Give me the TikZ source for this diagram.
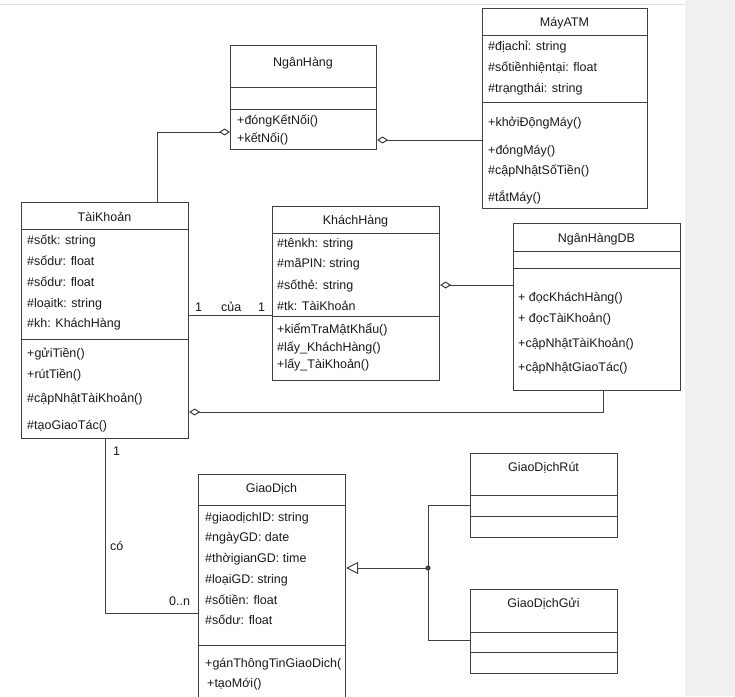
\documentclass[tikz,border=0pt]{standalone}
\usepackage{fontspec}
\setmainfont{Liberation Sans}
\usetikzlibrary{arrows.meta}
\definecolor{ln}{HTML}{404040}
\definecolor{tx}{HTML}{1A1A1A}
\definecolor{panel}{HTML}{F0F0F0}
\definecolor{topline}{HTML}{E2E2E2}
\tikzset{
  box/.style={draw=ln, line width=1.1pt, fill=white, rectangle, inner sep=0pt, anchor=north west},
  sepline/.style={draw=ln, line width=1pt},
  conn/.style={draw=ln, line width=1pt},
  txt/.style={anchor=west, inner sep=0pt, text=tx, text height=8.5pt, text depth=0pt, font=\fontsize{12.5}{14}\selectfont},
  ttl/.style={txt, anchor=center},
}
\begin{document}
\begin{tikzpicture}[x=1pt, y=-1pt]
\clip (0,0) rectangle (735,696);
\fill[white] (0,0) rectangle (735,696);
\fill[panel] (685,0) rectangle (735,696);
\draw[topline, line width=1pt] (0,4) -- (685,4);

% ---------- NganHang ----------
\node[box, minimum width=146pt, minimum height=104pt] (ngh) at (230,45) {};
\draw[sepline] (ngh.west |- 0,87) -- (ngh.east |- 0,87);
\draw[sepline] (ngh.west |- 0,109) -- (ngh.east |- 0,109);
\node[ttl] (ngh-t) at (303,62) {NgânHàng};
\node[txt] (ngh-m1) at (237,120) {+đóngKếtNối()};
\node[txt] (ngh-m2) at (237,138) {+kếtNối()};

% ---------- MayATM ----------
\node[box, minimum width=165pt, minimum height=200pt] (atm) at (482,8) {};
\draw[sepline] (atm.west |- 0,35) -- (atm.east |- 0,35);
\draw[sepline] (atm.west |- 0,102) -- (atm.east |- 0,102);
\node[ttl] (atm-t) at (564.5,22) {MáyATM};
\node[txt] (atm-a1) at (488,46) {\#địachỉ: string};
\node[txt] (atm-a2) at (488,67) {\#sốtiềnhiệntại: float};
\node[txt] (atm-a3) at (488,88) {\#trạngthái: string};
\node[txt] (atm-m1) at (488,122) {+khởiĐộngMáy()};
\node[txt] (atm-m2) at (488,150) {+đóngMáy()};
\node[txt] (atm-m3) at (488,170) {\#cậpNhậtSốTiền()};
\node[txt] (atm-m4) at (488,197) {\#tắtMáy()};

% ---------- TaiKhoan ----------
\node[box, minimum width=167pt, minimum height=236pt] (tk) at (21,202) {};
\draw[sepline] (tk.west |- 0,229) -- (tk.east |- 0,229);
\draw[sepline] (tk.west |- 0,339) -- (tk.east |- 0,339);
\node[ttl] (tk-t) at (104.5,217) {TàiKhoản};
\node[txt] (tk-a1) at (27,240) {\#sốtk: string};
\node[txt] (tk-a2) at (27,261) {\#sốdư: float};
\node[txt] (tk-a3) at (27,282) {\#sốdư: float};
\node[txt] (tk-a4) at (27,303) {\#loạitk: string};
\node[txt] (tk-a5) at (27,323) {\#kh: KháchHàng};
\node[txt] (tk-m1) at (27,353) {+gửiTiền()};
\node[txt] (tk-m2) at (27,374) {+rútTiền()};
\node[txt] (tk-m3) at (27,398) {\#cậpNhậtTàiKhoản()};
\node[txt] (tk-m4) at (27,425) {\#tạoGiaoTác()};

% ---------- KhachHang ----------
\node[box, minimum width=167pt, minimum height=174pt] (kh) at (272,206) {};
\draw[sepline] (kh.west |- 0,233) -- (kh.east |- 0,233);
\draw[sepline] (kh.west |- 0,316) -- (kh.east |- 0,316);
\node[ttl] (kh-t) at (355.5,220) {KháchHàng};
\node[txt] (kh-a1) at (277,243) {\#tênkh: string};
\node[txt] (kh-a2) at (277,263) {\#mãPIN: string};
\node[txt] (kh-a3) at (277,285) {\#sốthẻ: string};
\node[txt] (kh-a4) at (277,306) {\#tk: TàiKhoản};
\node[txt] (kh-m1) at (277,329) {+kiểmTraMậtKhẩu()};
\node[txt] (kh-m2) at (277,347) {\#lấy\_KháchHàng()};
\node[txt] (kh-m3) at (277,364) {+lấy\_TàiKhoản()};

% ---------- NganHangDB ----------
\node[box, minimum width=167pt, minimum height=167pt] (db) at (513,223) {};
\draw[sepline] (db.west |- 0,251) -- (db.east |- 0,251);
\draw[sepline] (db.west |- 0,268) -- (db.east |- 0,268);
\node[ttl] (db-t) at (596.5,238) {NgânHàngDB};
\node[txt] (db-m1) at (518,297) {+ đọcKháchHàng()};
\node[txt] (db-m2) at (518,318) {+ đọcTàiKhoản()};
\node[txt] (db-m3) at (518,343) {+cậpNhậtTàiKhoản()};
\node[txt] (db-m4) at (518,367) {+cậpNhậtGiaoTác()};

% ---------- GiaoDich ----------
\node[box, minimum width=147pt, minimum height=240pt] (gd) at (198,474) {};
\draw[sepline] (gd.west |- 0,505) -- (gd.east |- 0,505);
\draw[sepline] (gd.west |- 0,645) -- (gd.east |- 0,645);
\node[ttl] (gd-t) at (271.5,488) {GiaoDịch};
\node[txt] (gd-a1) at (205,517) {\#giaodịchID: string};
\node[txt] (gd-a2) at (205,537) {\#ngàyGD: date};
\node[txt] (gd-a3) at (205,558) {\#thờigianGD: time};
\node[txt] (gd-a4) at (205,579) {\#loạiGD: string};
\node[txt] (gd-a5) at (205,600) {\#sốtiền: float};
\node[txt] (gd-a6) at (205,620) {\#sốdư: float};
\node[txt] (gd-m1) at (205,663) {+gánThôngTinGiaoDich(};
\node[txt] (gd-m2) at (207,683) {+tạoMới()};

% ---------- GiaoDichRut ----------
\node[box, minimum width=147pt, minimum height=84pt] (rut) at (470,453) {};
\draw[sepline] (rut.west |- 0,495) -- (rut.east |- 0,495);
\draw[sepline] (rut.west |- 0,516) -- (rut.east |- 0,516);
\node[ttl] (rut-t) at (543.5,467) {GiaoDịchRút};

% ---------- GiaoDichGui ----------
\node[box, minimum width=147pt, minimum height=84pt] (gui) at (470,589) {};
\draw[sepline] (gui.west |- 0,632) -- (gui.east |- 0,632);
\draw[sepline] (gui.west |- 0,652) -- (gui.east |- 0,652);
\node[ttl] (gui-t) at (543.5,603) {GiaoDịchGửi};

% ---------- connectors ----------
\draw[conn, -{Diamond[open, length=11pt, width=7pt]}] (157,0 |- tk.north) |- (ngh.west |- 0,132);
\draw[conn, {Diamond[open, length=11pt, width=7pt]}-] (ngh.east |- 0,140) -- (atm.west |- 0,140);
\draw[conn] (tk.east |- 0,315) -- (kh.west |- 0,315);
\node[txt] (l1) at (195,307) {1};
\node[txt] (lcua) at (221,307) {của};
\node[txt] (l2) at (258,307) {1};
\draw[conn, {Diamond[open, length=11pt, width=7pt]}-] (kh.east |- 0,285) -- (db.west |- 0,285);
\draw[conn, {Diamond[open, length=11pt, width=7pt]}-] (tk.east |- 0,412) -| (603,0 |- db.south);
\draw[conn] (105,0 |- tk.south) |- (gd.west |- 0,613);
\node[txt] (l3) at (113,451) {1};
\node[txt] (lco) at (110,546) {có};
\node[txt] (l4) at (169,601) {0..n};

\coordinate (j) at (428,568);
\draw[conn, -{Triangle[open, length=12pt, width=12pt]}] (j) -- (gd.east |- j);
\draw[conn] (rut.west |- 0,505) -| (j);
\draw[conn] (gui.west |- 0,640) -| (j);
\fill[ln] (j) circle (2.6pt);
\end{tikzpicture}
\end{document}
